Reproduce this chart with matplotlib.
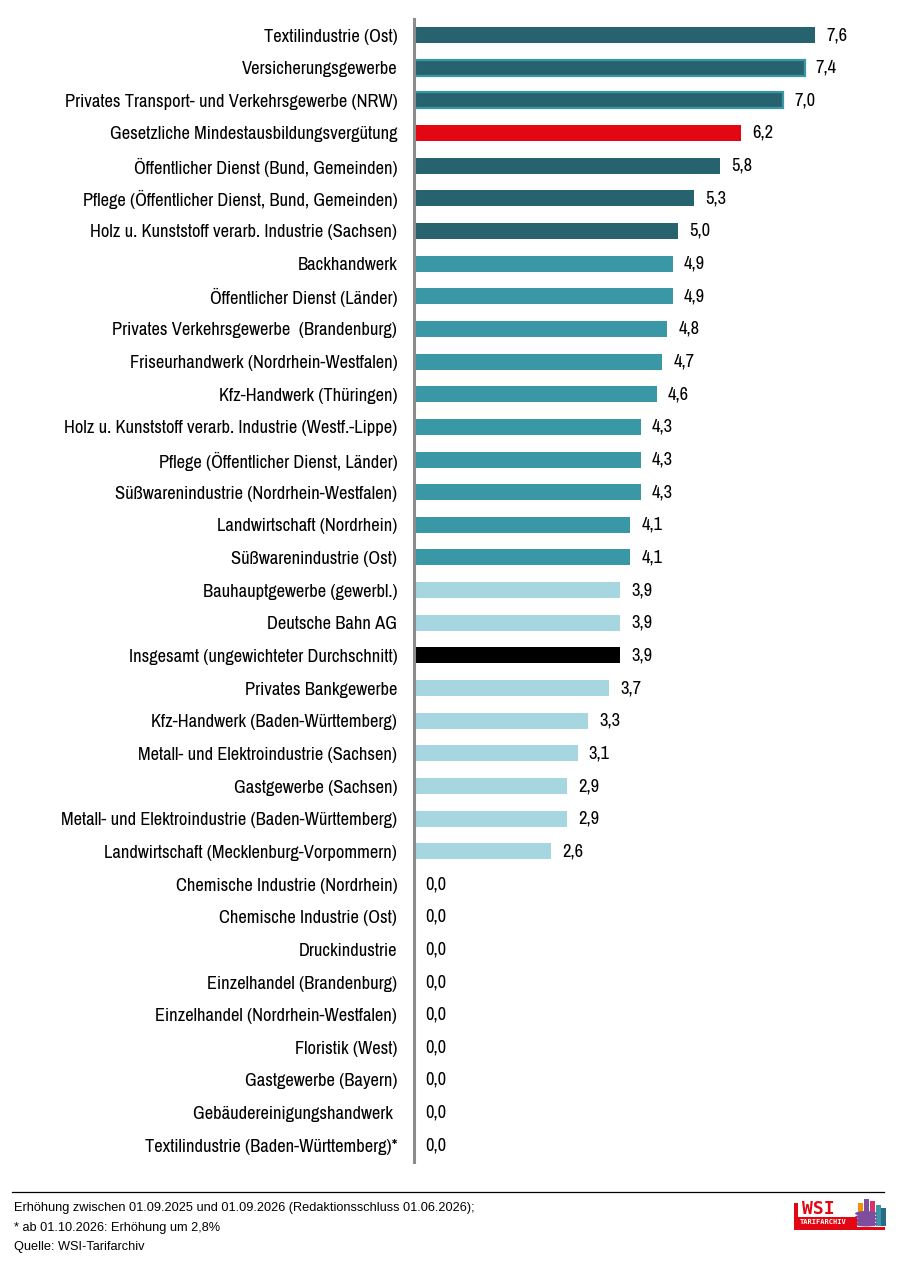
import matplotlib
matplotlib.use("Agg")
import matplotlib.pyplot as plt
from matplotlib.patches import Rectangle, Ellipse
from matplotlib import font_manager

categories = [
    "Textilindustrie (Ost)",
    "Versicherungsgewerbe",
    "Privates Transport- und Verkehrsgewerbe (NRW)",
    "Gesetzliche Mindestausbildungsvergütung",
    "Öffentlicher Dienst (Bund, Gemeinden)",
    "Pflege (Öffentlicher Dienst, Bund, Gemeinden)",
    "Holz u. Kunststoff verarb. Industrie (Sachsen)",
    "Backhandwerk",
    "Öffentlicher Dienst (Länder)",
    "Privates Verkehrsgewerbe  (Brandenburg)",
    "Friseurhandwerk (Nordrhein-Westfalen)",
    "Kfz-Handwerk (Thüringen)",
    "Holz u. Kunststoff verarb. Industrie (Westf.-Lippe)",
    "Pflege (Öffentlicher Dienst, Länder)",
    "Süßwarenindustrie (Nordrhein-Westfalen)",
    "Landwirtschaft (Nordrhein)",
    "Süßwarenindustrie (Ost)",
    "Bauhauptgewerbe (gewerbl.)",
    "Deutsche Bahn AG",
    "Insgesamt (ungewichteter Durchschnitt)",
    "Privates Bankgewerbe",
    "Kfz-Handwerk (Baden-Württemberg)",
    "Metall- und Elektroindustrie (Sachsen)",
    "Gastgewerbe (Sachsen)",
    "Metall- und Elektroindustrie (Baden-Württemberg)",
    "Landwirtschaft (Mecklenburg-Vorpommern)",
    "Chemische Industrie (Nordrhein)",
    "Chemische Industrie (Ost)",
    "Druckindustrie",
    "Einzelhandel (Brandenburg)",
    "Einzelhandel (Nordrhein-Westfalen)",
    "Floristik (West)",
    "Gastgewerbe (Bayern)",
    "Gebäudereinigungshandwerk ",
    "Textilindustrie (Baden-Württemberg)*",
]
values = [7.6, 7.4, 7.0, 6.2, 5.8, 5.3, 5.0, 4.9, 4.9, 4.8, 4.7, 4.6, 4.3, 4.3, 4.3,
          4.1, 4.1, 3.9, 3.9, 3.9, 3.7, 3.3, 3.1, 2.9, 2.9, 2.6,
          0.0, 0.0, 0.0, 0.0, 0.0, 0.0, 0.0, 0.0, 0.0]
groups = ["dark"] * 3 + ["red"] + ["dark"] * 3 + ["mid"] * 10 + ["light"] * 2 + ["black"] + ["light"] * 6 + ["light"] * 9
edge_groups = ["none", "mid", "mid"] + ["none"] * 32

footnotes = [
    "Erhöhung zwischen 01.09.2025 und 01.09.2026 (Redaktionsschluss 01.06.2026);",
    "* ab 01.10.2026: Erhöhung um 2,8%",
    "Quelle: WSI-Tarifarchiv",
]

colors = {"dark": "#27636e", "mid": "#3a98a6", "light": "#a6d7e1",
          "red": "#e30613", "black": "#000000", "none": "none"}

# choose a condensed sans font if one is installed
fonts = font_manager.fontManager.ttflist
chosen = None
for f in fonts:
    if f.name == "Liberation Sans Narrow" and f.style == "normal":
        chosen = (f.name, "normal")
        break
if chosen is None:
    for f in fonts:
        if ("Condensed" in f.name or "Narrow" in f.name) and f.style == "normal":
            chosen = (f.name, "normal")
            break

if chosen is not None:
    narrow = [chosen[0], "DejaVu Sans"]
    lab_fs = 13.3
else:
    narrow = ["Liberation Sans", "DejaVu Sans"]
    lab_fs = 11
plt.rcParams["font.family"] = narrow
regular = ["Liberation Sans", "DejaVu Sans"]

W, H = 906, 1265
fig = plt.figure(figsize=(W / 100, H / 100), dpi=100)
ax_left, ax_right_px = 414, 889
top_px, bottom_px = 18.7, 1161.6
ax = fig.add_axes([ax_left / W, 1 - bottom_px / H, (ax_right_px - ax_left) / W, (bottom_px - top_px) / H])

n = len(categories)
ypos = list(range(n))
for i, (v, g, e) in enumerate(zip(values, groups, edge_groups)):
    if e != "none":
        ax.barh(i, v, height=0.49, color=colors[g], edgecolor=colors[e], linewidth=1.6)
    else:
        ax.barh(i, v, height=0.49, color=colors[g], linewidth=0)
    ax.annotate(f"{v:.1f}".replace(".", ","), xy=(v, i), xytext=(8, 0),
                textcoords="offset points", va="center", ha="left", fontsize=lab_fs, color="black")

ax.set_xlim(0, 9)
ax.set_ylim(n - 0.5, -0.5)
ax.set_yticks(ypos)
ax.set_yticklabels(categories, fontsize=lab_fs)
ax.tick_params(axis="y", length=0, pad=12)
ax.set_xticks([])
for s in ["top", "right", "bottom"]:
    ax.spines[s].set_visible(False)
ax.spines["left"].set_color("#8c8c8c")
ax.spines["left"].set_linewidth(2.2)

# footer line
fig.add_artist(plt.Line2D([12 / W, 884 / W], [1 - 1192 / H, 1 - 1192 / H], color="black", lw=0.9))
for k, t in enumerate(footnotes):
    fig.text(14 / W, 1 - (1208 + k * 19.5) / H, t, fontsize=9.2, va="center", ha="left", family=regular)

# simple logo
def rect(x0, y0, x1, y1, c):
    fig.add_artist(Rectangle((x0 / W, 1 - y1 / H), (x1 - x0) / W, (y1 - y0) / H, color=c, lw=0))

for x0, c, top in [(858, "#f39200", 1203), (864, "#7d4e9e", 1199), (870, "#d6336c", 1201), (876, "#3a98a6", 1205), (881, "#2a6b8a", 1208)]:
    rect(x0, top, x0 + 4.5, 1226, c)
for k in range(4):
    fig.add_artist(Ellipse((866 / W, 1 - (1224 - k * 3.5) / H), 22 / W, 5 / H, color="#7d4e9e", lw=0))
rect(794, 1203, 797.5, 1230, "#e30613")
rect(794, 1217, 857, 1228, "#e30613")
rect(794, 1226.5, 885, 1230, "#e30613")
fig.text(802 / W, 1 - 1209 / H, "WSI", fontsize=13, color="#e30613", fontweight="bold",
         family="DejaVu Sans Mono", va="center", ha="left")
fig.text(800 / W, 1 - 1222 / H, "TARIFARCHIV", fontsize=5, color="white", fontweight="bold",
         family="DejaVu Sans Mono", va="center", ha="left")

fig.savefig("out.png", dpi=100)
